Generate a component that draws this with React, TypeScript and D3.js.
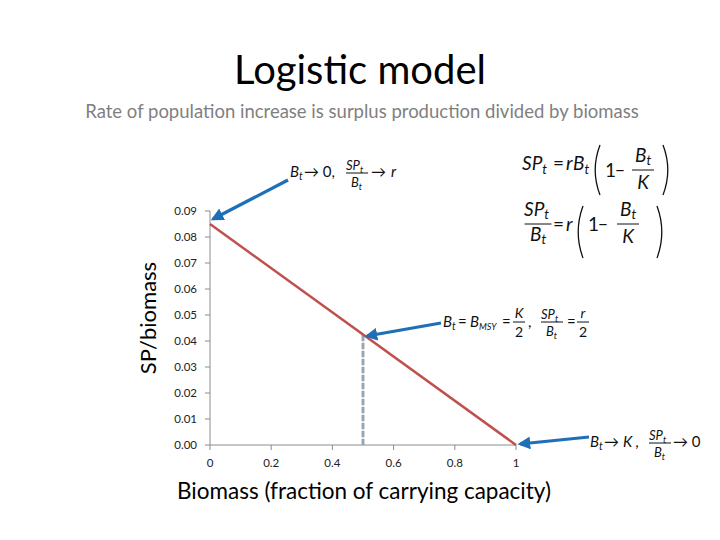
import React from "react";
import * as d3 from "d3";

const biomass = [0, 1];
const spPerBiomass = [0.085, 0];
const msyX = 0.5;
const yTicks = [0, 0.01, 0.02, 0.03, 0.04, 0.05, 0.06, 0.07, 0.08, 0.09];
const xTicks = [0, 0.2, 0.4, 0.6, 0.8, 1];

const title = "Logistic model";
const subtitle = "Rate of population increase is surplus production divided by biomass";
const xLabel = "Biomass (fraction of carrying capacity)";
const yLabel = "SP/biomass";

const FONT = "Lato, 'Open Sans', sans-serif";
const BLUE = "#1f6fb8";

function Sub({ base, sub, x, y, fs, anchor = "start", subScale = 0.7, dy = 0.22 }: any) {
  return (
    <text x={x} y={y} fontSize={fs} fontStyle="italic" fontFamily={FONT} textAnchor={anchor} fill="#111">
      <tspan>{base}</tspan>
      <tspan fontSize={fs * subScale} dy={fs * dy}>{sub}</tspan>
    </text>
  );
}

function T({ x, y, fs, children, italic = false, anchor = "start" }: any) {
  return (
    <text x={x} y={y} fontSize={fs} fontStyle={italic ? "italic" : "normal"} fontFamily={FONT} textAnchor={anchor} fill="#111">
      {children}
    </text>
  );
}

function Frac({ cx, by, w, fs, num, den, gapN = 0.25, gapD = 0.92 }: any) {
  return (
    <g>
      <line x1={cx - w / 2} x2={cx + w / 2} y1={by} y2={by} stroke="#111" strokeWidth={1} />
      {num(cx, by - fs * gapN)}
      {den(cx, by + fs * gapD)}
    </g>
  );
}

function Paren({ x, y1, y2, left }: any) {
  const bulge = left ? -6 : 6;
  const p = d3.path();
  p.moveTo(x, y1);
  p.quadraticCurveTo(x + bulge * 1.6, (y1 + y2) / 2, x, y2);
  return <path d={p.toString()} fill="none" stroke="#111" strokeWidth={1.3} />;
}

export default function App() {
  const x = d3.scaleLinear().domain([0, 1]).range([210, 516]);
  const y = d3.scaleLinear().domain([0, 0.09]).range([445, 211]);
  const line = d3.line<number>().x((d, i) => x(biomass[i])).y((d) => y(d));
  const msyY = spPerBiomass[0] * (1 - msyX);

  const arrows = [
    { x1: 288, y1: 180, x2: 213, y2: 219 },
    { x1: 441, y1: 323, x2: 367, y2: 336 },
    { x1: 589, y1: 437, x2: 520, y2: 444 },
  ];

  return (
    <svg width={720} height={540} style={{ position: "absolute", left: 0, top: 0, background: "#fff" }}>
      <defs>
        <marker id="ah" viewBox="0 0 10 10" refX="8" refY="5" markerWidth="4" markerHeight="4" orient="auto">
          <path d="M0,0 L10,5 L0,10 z" fill={BLUE} />
        </marker>
      </defs>
      <rect width={720} height={540} fill="#fff" />
      <text x={360} y={84} fontSize={40} fontFamily={FONT} textAnchor="middle" fill="#000">{title}</text>
      <text x={362} y={118} fontSize={18.5} fontFamily={FONT} textAnchor="middle" fill="#7f7f7f">{subtitle}</text>

      {/* axes */}
      <line x1={x(0)} x2={x(0)} y1={y(0.09)} y2={y(0)} stroke="#8c8c8c" />
      <line x1={x(0)} x2={x(1)} y1={y(0)} y2={y(0)} stroke="#8c8c8c" />
      {yTicks.map((t) => (
        <g key={"y" + t}>
          <line x1={x(0) - 5} x2={x(0)} y1={y(t)} y2={y(t)} stroke="#8c8c8c" />
          <text x={x(0) - 13} y={y(t) + 4} fontSize={11.5} fontFamily={FONT} textAnchor="end" fill="#222">{d3.format(".2f")(t)}</text>
        </g>
      ))}
      {xTicks.map((t) => (
        <g key={"x" + t}>
          <line x1={x(t)} x2={x(t)} y1={y(0)} y2={y(0) + 5} stroke="#8c8c8c" />
          <text x={x(t)} y={y(0) + 22} fontSize={11.5} fontFamily={FONT} textAnchor="middle" fill="#222">{String(t)}</text>
        </g>
      ))}

      {/* msy dashed */}
      <line x1={x(msyX)} x2={x(msyX)} y1={y(0)} y2={y(msyY)} stroke="#a6a6a6" strokeWidth={3} strokeDasharray="6,2" />
      <line x1={x(msyX)} x2={x(msyX)} y1={y(0)} y2={y(msyY)} stroke="#6fa8d6" strokeWidth={0.6} />

      <path d={line(spPerBiomass) || ""} fill="none" stroke="#c0504d" strokeWidth={2.5} />

      {arrows.map((a, i) => (
        <line key={i} x1={a.x1} y1={a.y1} x2={a.x2} y2={a.y2} stroke={BLUE} strokeWidth={3.2} markerEnd="url(#ah)" />
      ))}

      <text x={0} y={0} fontSize={22} fontFamily={FONT} textAnchor="middle" fill="#000" transform={`translate(156,318) rotate(-90)`}>{yLabel}</text>
      <text x={364} y={499} fontSize={22.5} fontFamily={FONT} textAnchor="middle" fill="#000">{xLabel}</text>

      {/* formula 1 */}
      <Sub base="SP" sub="t" x={522} y={170} fs={19} />
      <T x={553} y={170} fs={19}>=</T>
      <T x={566} y={170} fs={19} italic>r</T>
      <Sub base="B" sub="t" x={573} y={170} fs={19} />
      <Paren x={600} y1={145} y2={195} left />
      <T x={605} y={177} fs={19}>1</T>
      <T x={615} y={176} fs={17}>−</T>
      <Frac cx={643} by={170} w={22} fs={19} gapN={0.4} gapD={0.98}
        num={(cx: number, yy: number) => <Sub base="B" sub="t" x={cx - 8} y={yy} fs={19} dy={0.15} />}
        den={(cx: number, yy: number) => <T x={cx} y={yy} fs={19} italic anchor="middle">K</T>} />
      <Paren x={663} y1={145} y2={195} left={false} />

      {/* formula 2 */}
      <Frac cx={538} by={224} w={27} fs={19} gapN={0.4} gapD={0.92}
        num={(cx: number, yy: number) => <Sub base="SP" sub="t" x={cx - 14} y={yy} fs={19} dy={0.15} />}
        den={(cx: number, yy: number) => <Sub base="B" sub="t" x={cx - 8} y={yy} fs={19} dy={0.15} />} />
      <T x={553} y={231} fs={19}>=</T>
      <T x={566} y={231} fs={19} italic>r</T>
      <Paren x={583} y1={206} y2={258} left />
      <T x={588} y={231} fs={19}>1</T>
      <T x={598} y={230} fs={17}>−</T>
      <Frac cx={628} by={224} w={22} fs={19} gapN={0.4} gapD={0.98}
        num={(cx: number, yy: number) => <Sub base="B" sub="t" x={cx - 8} y={yy} fs={19} dy={0.15} />}
        den={(cx: number, yy: number) => <T x={cx} y={yy} fs={19} italic anchor="middle">K</T>} />
      <Paren x={657} y1={206} y2={258} left={false} />

      {/* annotation top */}
      <Sub base="B" sub="t" x={290} y={177} fs={15} />
      <T x={304} y={177} fs={15}>→ 0,</T>
      <Frac cx={357} by={173} w={22} fs={13}
        num={(cx: number, yy: number) => <Sub base="SP" sub="t" x={cx - 11} y={yy} fs={13} />}
        den={(cx: number, yy: number) => <Sub base="B" sub="t" x={cx - 6} y={yy + 2} fs={13} />} />
      <T x={371} y={177} fs={15}>→</T>
      <T x={391} y={177} fs={15} italic>r</T>

      {/* annotation mid */}
      <Sub base="B" sub="t" x={443} y={327} fs={15} />
      <T x={458} y={327} fs={15}>=</T>
      <Sub base="B" sub="MSY" x={470} y={327} fs={15} subScale={0.6} />
      <T x={502} y={327} fs={15}>=</T>
      <Frac cx={519} by={322} w={12} fs={13}
        num={(cx: number, yy: number) => <T x={cx} y={yy - 1} fs={14} italic anchor="middle">K</T>}
        den={(cx: number, yy: number) => <T x={cx} y={yy + 3} fs={14} anchor="middle">2</T>} />
      <T x={528} y={327} fs={15}>,</T>
      <Frac cx={552} by={322} w={22} fs={13}
        num={(cx: number, yy: number) => <Sub base="SP" sub="t" x={cx - 11} y={yy} fs={13} />}
        den={(cx: number, yy: number) => <Sub base="B" sub="t" x={cx - 6} y={yy + 2} fs={13} />} />
      <T x={567} y={327} fs={15}>=</T>
      <Frac cx={583} by={322} w={12} fs={13}
        num={(cx: number, yy: number) => <T x={cx} y={yy - 1} fs={14} italic anchor="middle">r</T>}
        den={(cx: number, yy: number) => <T x={cx} y={yy + 3} fs={14} anchor="middle">2</T>} />

      {/* annotation bottom */}
      <Sub base="B" sub="t" x={590} y={447} fs={15} />
      <T x={604} y={447} fs={15}>→</T>
      <T x={623} y={447} fs={15} italic>K ,</T>
      <Frac cx={660} by={443} w={22} fs={13}
        num={(cx: number, yy: number) => <Sub base="SP" sub="t" x={cx - 11} y={yy} fs={13} />}
        den={(cx: number, yy: number) => <Sub base="B" sub="t" x={cx - 6} y={yy + 2} fs={13} />} />
      <T x={673} y={447} fs={15}>→ 0</T>
    </svg>
  );
}
